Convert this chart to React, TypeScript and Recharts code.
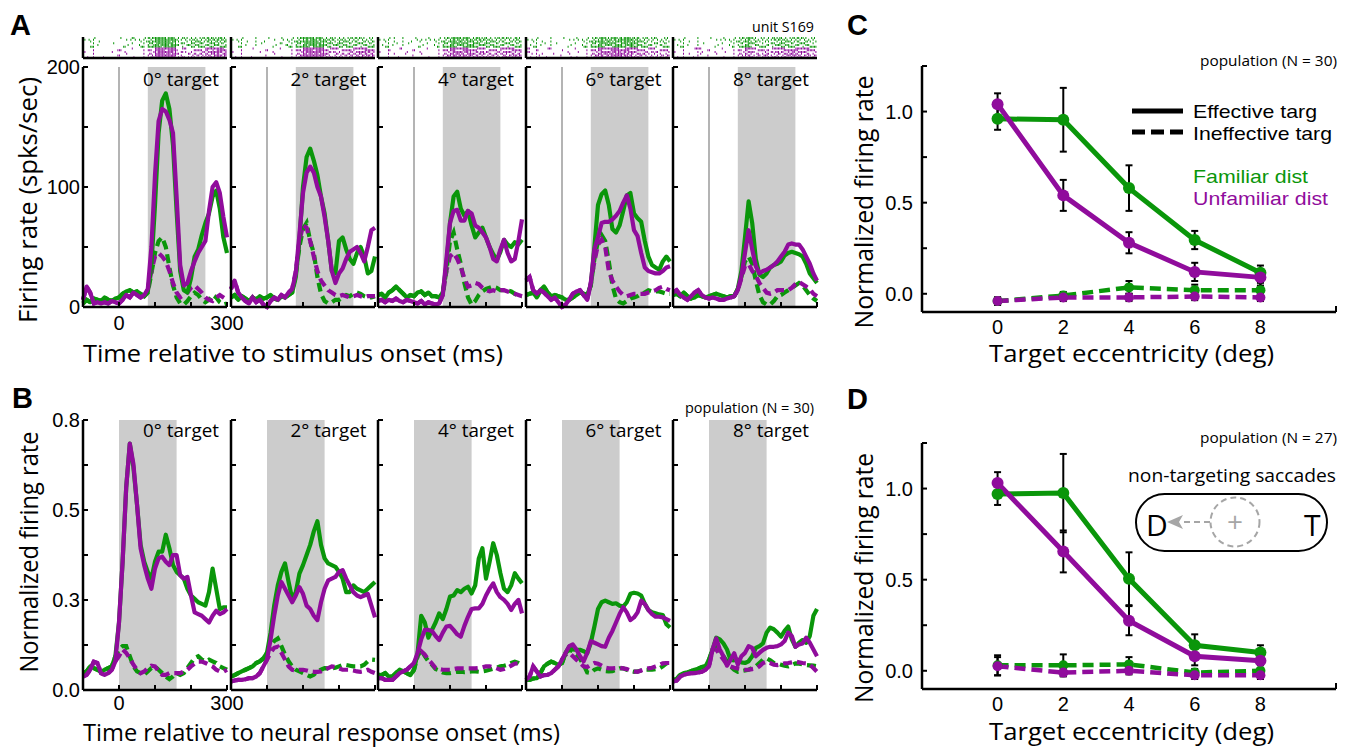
import React from 'react';
import { LineChart, Line, XAxis, YAxis, ReferenceArea, ReferenceLine, ErrorBar, BarChart, Bar } from 'recharts';

// ---------- colours & fonts ----------
const GREEN = '#0a960a';
const PURPLE = '#900c9c';
const SHADE = '#cccccc';
const FONT = "'Open Sans', 'Noto Sans', sans-serif";
const NUMFONT = "'Liberation Sans', Arial, sans-serif";

// ---------- shared categories ----------
const TIME_MS = [-100, -90, -80, -70, -60, -50, -40, -30, -20, -10, 0, 10, 20, 30, 40, 50, 60, 70, 80, 90, 100, 110, 120, 130, 140, 150, 160, 170, 180, 190, 200, 210, 220, 230, 240, 250, 260, 270, 280, 290, 300];
const TARGET_LABELS = ['0° target', '2° target', '4° target', '6° target', '8° target'];
const RASTER_BINS = [-90, -70, -50, -30, -10, 10, 30, 50, 70, 90, 110, 130, 150, 170, 190, 210, 230, 250, 270, 290];
const ECC_DEG = [0, 2, 4, 6, 8];

const A_Y_TICKS = [0, 50, 100, 150, 200];
const A_Y_TICK_LABELS = ['0', '', '100', '', '200'];
const B_Y_TICKS = [0, 0.1333, 0.2667, 0.4, 0.5333, 0.6667, 0.8];
const B_Y_TICK_LABELS = ['0.0', '', '0.3', '', '0.5', '', '0.8'];
const T_X_TICKS = [0, 100, 200, 300];
const CD_Y_TICKS = [0, 0.25, 0.5, 0.75, 1, 1.25];
const CD_Y_TICK_LABELS = ['0.0', '', '0.5', '', '1.0', ''];

// ---------- Panel A: single unit S169 firing rate (spks/sec) ----------
const A_T0_famEff = [3, 6, 4, 7, 6, 5, 8, 6, 5, 7, 8, 11, 13, 14, 12, 13, 11, 9, 13, 35, 85, 145, 172, 178, 165, 135, 80, 30, 14, 12, 24, 42, 48, 60, 70, 78, 92, 97, 82, 58, 45];
const A_T0_unfEff = [6, 17, 12, 3, 4, 3, 4, 3, 5, 4, 3, 6, 10, 8, 12, 10, 8, 10, 15, 50, 110, 155, 165, 163, 156, 145, 92, 35, 18, 20, 30, 38, 45, 50, 55, 80, 100, 104, 95, 75, 58];
const A_T0_famIne = [3, 6, 4, 7, 6, 5, 8, 6, 5, 7, 8, 11, 13, 14, 12, 13, 11, 9, 12, 28, 45, 55, 58, 50, 33, 18, 8, 3, 2, 5, 9, 12, 10, 6, 4, 6, 10, 8, 4, 2, 3];
const A_T0_unfIne = [6, 17, 12, 3, 4, 3, 4, 3, 5, 4, 3, 6, 10, 8, 12, 10, 8, 10, 14, 30, 42, 45, 42, 38, 30, 20, 12, 8, 10, 12, 16, 18, 15, 12, 8, 6, 5, 8, 10, 8, 6];

const A_T2_famEff = [8, 10, 6, 9, 7, 5, 8, 6, 9, 7, 8, 10, 7, 6, 9, 8, 10, 12, 25, 55, 100, 125, 132, 122, 110, 92, 78, 55, 30, 28, 55, 58, 48, 40, 36, 45, 50, 42, 28, 30, 42];
const A_T2_unfEff = [15, 22, 12, 8, 5, 3, 8, 4, 6, 2, 0, 5, 8, 6, 10, 8, 12, 15, 28, 60, 95, 112, 117, 112, 100, 92, 75, 55, 30, 20, 28, 32, 40, 46, 48, 50, 45, 38, 50, 64, 66];
const A_T2_famIne = [8, 10, 6, 9, 7, 5, 8, 6, 9, 7, 8, 10, 7, 6, 9, 8, 10, 12, 28, 50, 65, 70, 55, 45, 25, 11, 5, 3, 4, 6, 6, 8, 10, 9, 11, 12, 11, 9, 8, 8, 9];
const A_T2_unfIne = [15, 22, 12, 8, 5, 3, 8, 4, 6, 2, 0, 5, 8, 6, 10, 8, 12, 15, 30, 55, 68, 66, 55, 42, 30, 22, 18, 14, 12, 10, 9, 10, 9, 8, 9, 10, 9, 8, 9, 9, 9];

const A_T4_famEff = [10, 11, 8, 12, 14, 17, 14, 11, 8, 10, 9, 12, 13, 10, 12, 9, 9, 8, 12, 35, 70, 92, 96, 82, 76, 80, 68, 58, 62, 66, 58, 50, 44, 39, 46, 56, 52, 50, 54, 52, 56];
const A_T4_unfEff = [5, 6, 4, 6, 5, 7, 5, 4, 6, 5, 4, 3, 5, 2, 4, 3, 2, 3, 10, 40, 70, 80, 81, 72, 72, 80, 78, 68, 66, 62, 58, 50, 40, 38, 48, 56, 45, 38, 40, 55, 73];
const A_T4_famIne = [10, 11, 8, 12, 14, 17, 14, 11, 8, 10, 9, 12, 13, 10, 12, 9, 9, 8, 12, 30, 55, 62, 48, 36, 20, 8, 2, 5, 10, 13, 15, 16, 17, 16, 14, 14, 14, 13, 11, 9, 9];
const A_T4_unfIne = [5, 6, 4, 6, 5, 7, 5, 4, 6, 5, 4, 3, 5, 2, 4, 3, 2, 3, 10, 30, 42, 45, 40, 33, 24, 17, 18, 20, 19, 16, 14, 13, 14, 13, 14, 14, 13, 12, 11, 10, 9];

const A_T6_famEff = [10, 11, 12, 8, 14, 17, 12, 9, 10, 9, 8, 6, 6, 8, 10, 12, 11, 10, 18, 50, 85, 94, 97, 85, 65, 62, 68, 80, 93, 95, 78, 74, 71, 55, 42, 35, 33, 31, 38, 42, 38];
const A_T6_unfEff = [22, 25, 14, 11, 14, 12, 9, 6, 8, 4, 0, 2, 6, 11, 13, 14, 10, 6, 20, 48, 58, 70, 71, 71, 73, 76, 80, 87, 93, 82, 64, 59, 45, 33, 30, 29, 28, 28, 30, 33, 34];
const A_T6_famIne = [10, 11, 12, 8, 14, 17, 12, 9, 10, 9, 8, 6, 6, 8, 10, 12, 11, 10, 18, 40, 55, 60, 55, 38, 18, 7, 4, 3, 5, 7, 8, 9, 11, 12, 14, 13, 13, 13, 12, 11, 11];
const A_T6_unfIne = [22, 25, 14, 11, 14, 12, 9, 6, 8, 4, 0, 2, 6, 11, 13, 14, 10, 6, 20, 38, 52, 56, 50, 30, 22, 17, 13, 10, 9, 10, 11, 11, 11, 11, 12, 13, 14, 16, 17, 15, 14];

const A_T8_famEff = [10, 11, 9, 12, 9, 7, 8, 10, 9, 8, 9, 10, 11, 10, 9, 8, 9, 9, 15, 30, 58, 88, 70, 40, 27, 25, 28, 33, 35, 36, 38, 43, 45, 46, 45, 44, 42, 36, 28, 24, 20];
const A_T8_unfEff = [12, 14, 10, 8, 6, 9, 12, 14, 10, 8, 7, 8, 7, 6, 6, 7, 8, 9, 14, 26, 45, 64, 48, 34, 28, 30, 31, 33, 35, 38, 42, 46, 52, 53, 52, 52, 48, 42, 36, 28, 22];
const A_T8_famIne = [10, 11, 9, 12, 9, 7, 8, 10, 9, 8, 9, 10, 11, 10, 9, 8, 9, 9, 15, 25, 38, 42, 36, 22, 10, 4, 2, 2, 5, 9, 10, 12, 14, 16, 18, 20, 18, 14, 10, 7, 5];
const A_T8_unfIne = [12, 14, 10, 8, 6, 9, 12, 14, 10, 8, 7, 8, 7, 6, 6, 7, 8, 9, 14, 24, 34, 36, 30, 26, 20, 16, 12, 11, 12, 14, 14, 14, 14, 16, 19, 21, 19, 17, 15, 11, 9];

// ---------- Panel A raster: spike density per 20 ms bin (0..1) ----------
const RASTER_T0_fam = [0.08, 0.12, 0.1, 0.06, 0.1, 0.12, 0.15, 0.1, 0.15, 0.6, 0.95, 0.95, 0.85, 0.4, 0.35, 0.5, 0.55, 0.6, 0.6, 0.55];
const RASTER_T0_unf = [0.15, 0.1, 0.08, 0.05, 0.08, 0.1, 0.1, 0.08, 0.1, 0.4, 0.9, 0.9, 0.85, 0.3, 0.25, 0.35, 0.4, 0.6, 0.75, 0.7];
const RASTER_T2_fam = [0.1, 0.12, 0.08, 0.1, 0.12, 0.08, 0.1, 0.12, 0.15, 0.55, 0.9, 0.9, 0.8, 0.5, 0.4, 0.5, 0.45, 0.5, 0.4, 0.45];
const RASTER_T2_unf = [0.2, 0.1, 0.08, 0.06, 0.08, 0.06, 0.08, 0.08, 0.12, 0.45, 0.85, 0.85, 0.75, 0.5, 0.3, 0.35, 0.45, 0.5, 0.6, 0.65];
const RASTER_T4_fam = [0.15, 0.15, 0.2, 0.15, 0.12, 0.15, 0.12, 0.1, 0.12, 0.5, 0.85, 0.8, 0.75, 0.65, 0.55, 0.5, 0.45, 0.5, 0.5, 0.5];
const RASTER_T4_unf = [0.1, 0.12, 0.1, 0.08, 0.08, 0.06, 0.06, 0.06, 0.08, 0.45, 0.75, 0.7, 0.7, 0.6, 0.55, 0.5, 0.4, 0.45, 0.45, 0.5];
const RASTER_T6_fam = [0.15, 0.15, 0.12, 0.12, 0.1, 0.1, 0.12, 0.1, 0.15, 0.55, 0.85, 0.75, 0.7, 0.8, 0.8, 0.6, 0.45, 0.35, 0.35, 0.4];
const RASTER_T6_unf = [0.25, 0.15, 0.12, 0.1, 0.05, 0.05, 0.12, 0.12, 0.12, 0.5, 0.7, 0.7, 0.75, 0.8, 0.7, 0.55, 0.35, 0.3, 0.3, 0.35];
const RASTER_T8_fam = [0.12, 0.12, 0.1, 0.12, 0.1, 0.1, 0.12, 0.1, 0.12, 0.4, 0.75, 0.45, 0.35, 0.4, 0.45, 0.5, 0.5, 0.5, 0.4, 0.35];
const RASTER_T8_unf = [0.15, 0.1, 0.12, 0.15, 0.1, 0.08, 0.08, 0.1, 0.12, 0.35, 0.6, 0.4, 0.35, 0.4, 0.45, 0.55, 0.6, 0.55, 0.45, 0.35];

// ---------- Panel B: population normalized firing rate ----------
const B_T0_famEff = [0.05, 0.055, 0.07, 0.065, 0.06, 0.054, 0.06, 0.065, 0.07, 0.10, 0.20, 0.38, 0.60, 0.73, 0.66, 0.55, 0.43, 0.38, 0.35, 0.33, 0.38, 0.41, 0.41, 0.46, 0.42, 0.37, 0.35, 0.34, 0.33, 0.30, 0.28, 0.27, 0.26, 0.255, 0.25, 0.29, 0.36, 0.30, 0.24, 0.245, 0.245];
const B_T0_unfEff = [0.04, 0.045, 0.06, 0.084, 0.08, 0.05, 0.045, 0.05, 0.06, 0.085, 0.20, 0.38, 0.60, 0.73, 0.67, 0.55, 0.42, 0.37, 0.33, 0.30, 0.36, 0.39, 0.395, 0.38, 0.37, 0.40, 0.40, 0.34, 0.33, 0.335, 0.28, 0.23, 0.225, 0.22, 0.21, 0.20, 0.22, 0.235, 0.225, 0.23, 0.24];
const B_T0_famIne = [0.05, 0.055, 0.07, 0.065, 0.06, 0.054, 0.06, 0.065, 0.07, 0.10, 0.12, 0.13, 0.13, 0.10, 0.07, 0.055, 0.05, 0.045, 0.055, 0.065, 0.07, 0.06, 0.05, 0.04, 0.032, 0.04, 0.05, 0.045, 0.05, 0.065, 0.08, 0.095, 0.10, 0.09, 0.085, 0.09, 0.085, 0.08, 0.07, 0.065, 0.06];
const B_T0_unfIne = [0.04, 0.045, 0.06, 0.084, 0.08, 0.05, 0.045, 0.05, 0.06, 0.085, 0.10, 0.12, 0.11, 0.094, 0.075, 0.06, 0.05, 0.055, 0.065, 0.072, 0.07, 0.055, 0.045, 0.045, 0.05, 0.05, 0.05, 0.05, 0.055, 0.06, 0.07, 0.078, 0.084, 0.084, 0.08, 0.075, 0.07, 0.06, 0.055, 0.054, 0.06];

const B_T2_famEff = [0.04, 0.044, 0.05, 0.055, 0.06, 0.065, 0.07, 0.08, 0.085, 0.094, 0.11, 0.17, 0.25, 0.31, 0.35, 0.375, 0.32, 0.27, 0.29, 0.345, 0.37, 0.40, 0.43, 0.47, 0.50, 0.43, 0.39, 0.375, 0.37, 0.365, 0.35, 0.33, 0.29, 0.29, 0.31, 0.30, 0.295, 0.29, 0.30, 0.31, 0.32];
const B_T2_unfEff = [0.025, 0.028, 0.03, 0.03, 0.032, 0.035, 0.035, 0.04, 0.05, 0.07, 0.09, 0.15, 0.22, 0.28, 0.32, 0.30, 0.28, 0.26, 0.28, 0.305, 0.285, 0.25, 0.24, 0.22, 0.207, 0.26, 0.30, 0.325, 0.33, 0.335, 0.35, 0.355, 0.33, 0.31, 0.29, 0.28, 0.275, 0.28, 0.285, 0.25, 0.215];
const B_T2_famIne = [0.04, 0.044, 0.05, 0.055, 0.06, 0.065, 0.07, 0.08, 0.085, 0.094, 0.11, 0.13, 0.145, 0.153, 0.13, 0.105, 0.085, 0.07, 0.06, 0.055, 0.05, 0.045, 0.04, 0.045, 0.055, 0.06, 0.065, 0.064, 0.064, 0.066, 0.07, 0.074, 0.074, 0.072, 0.07, 0.07, 0.07, 0.075, 0.085, 0.09, 0.089];
const B_T2_unfIne = [0.025, 0.028, 0.03, 0.03, 0.032, 0.035, 0.035, 0.04, 0.05, 0.07, 0.09, 0.11, 0.125, 0.128, 0.11, 0.09, 0.07, 0.06, 0.058, 0.06, 0.06, 0.058, 0.055, 0.054, 0.054, 0.055, 0.06, 0.065, 0.07, 0.068, 0.064, 0.06, 0.06, 0.06, 0.058, 0.055, 0.054, 0.056, 0.06, 0.054, 0.05];

const B_T4_famEff = [0.045, 0.044, 0.05, 0.04, 0.04, 0.05, 0.06, 0.055, 0.05, 0.044, 0.06, 0.11, 0.22, 0.20, 0.155, 0.178, 0.20, 0.227, 0.21, 0.24, 0.277, 0.28, 0.296, 0.29, 0.30, 0.306, 0.286, 0.31, 0.39, 0.42, 0.33, 0.38, 0.435, 0.40, 0.346, 0.30, 0.29, 0.31, 0.346, 0.33, 0.316];
const B_T4_unfEff = [0.035, 0.035, 0.03, 0.03, 0.03, 0.04, 0.05, 0.055, 0.06, 0.07, 0.08, 0.11, 0.15, 0.178, 0.178, 0.175, 0.16, 0.148, 0.17, 0.188, 0.19, 0.178, 0.165, 0.158, 0.19, 0.217, 0.24, 0.242, 0.242, 0.255, 0.28, 0.30, 0.316, 0.29, 0.275, 0.267, 0.255, 0.237, 0.255, 0.267, 0.227];
const B_T4_famIne = [0.045, 0.044, 0.05, 0.04, 0.04, 0.05, 0.06, 0.055, 0.05, 0.044, 0.06, 0.10, 0.12, 0.10, 0.085, 0.075, 0.062, 0.058, 0.052, 0.05, 0.05, 0.052, 0.054, 0.054, 0.053, 0.054, 0.055, 0.055, 0.054, 0.055, 0.057, 0.06, 0.063, 0.066, 0.07, 0.072, 0.075, 0.08, 0.084, 0.08, 0.074];
const B_T4_unfIne = [0.035, 0.035, 0.03, 0.03, 0.03, 0.04, 0.05, 0.055, 0.06, 0.07, 0.08, 0.10, 0.115, 0.105, 0.09, 0.078, 0.065, 0.062, 0.06, 0.06, 0.06, 0.062, 0.064, 0.064, 0.064, 0.064, 0.064, 0.064, 0.065, 0.067, 0.07, 0.07, 0.068, 0.064, 0.06, 0.062, 0.066, 0.072, 0.078, 0.079, 0.075];

const B_T6_famEff = [0.03, 0.03, 0.034, 0.035, 0.05, 0.07, 0.078, 0.084, 0.08, 0.074, 0.08, 0.11, 0.128, 0.12, 0.119, 0.119, 0.115, 0.109, 0.14, 0.188, 0.24, 0.26, 0.265, 0.26, 0.255, 0.257, 0.25, 0.247, 0.26, 0.285, 0.288, 0.286, 0.28, 0.255, 0.237, 0.23, 0.227, 0.224, 0.222, 0.195, 0.185];
const B_T6_unfEff = [0.03, 0.04, 0.07, 0.055, 0.04, 0.044, 0.045, 0.05, 0.06, 0.07, 0.09, 0.11, 0.13, 0.135, 0.12, 0.10, 0.085, 0.11, 0.145, 0.14, 0.135, 0.13, 0.128, 0.155, 0.175, 0.20, 0.225, 0.245, 0.23, 0.207, 0.215, 0.23, 0.265, 0.255, 0.237, 0.225, 0.217, 0.217, 0.215, 0.21, 0.205];
const B_T6_famIne = [0.03, 0.03, 0.034, 0.035, 0.05, 0.07, 0.078, 0.084, 0.08, 0.074, 0.08, 0.11, 0.12, 0.115, 0.105, 0.092, 0.075, 0.052, 0.05, 0.06, 0.064, 0.06, 0.056, 0.055, 0.056, 0.06, 0.064, 0.064, 0.06, 0.056, 0.054, 0.055, 0.058, 0.06, 0.06, 0.06, 0.062, 0.064, 0.07, 0.079, 0.08];
const B_T6_unfIne = [0.03, 0.04, 0.07, 0.055, 0.04, 0.044, 0.045, 0.05, 0.06, 0.07, 0.09, 0.105, 0.11, 0.1, 0.09, 0.08, 0.07, 0.068, 0.075, 0.08, 0.078, 0.072, 0.066, 0.064, 0.064, 0.065, 0.066, 0.064, 0.062, 0.058, 0.055, 0.054, 0.058, 0.062, 0.064, 0.066, 0.07, 0.074, 0.079, 0.08, 0.08];

const B_T8_famEff = [0.03, 0.032, 0.045, 0.05, 0.052, 0.056, 0.06, 0.063, 0.068, 0.07, 0.09, 0.12, 0.155, 0.15, 0.138, 0.12, 0.089, 0.088, 0.09, 0.082, 0.08, 0.085, 0.10, 0.125, 0.13, 0.138, 0.17, 0.185, 0.18, 0.17, 0.158, 0.175, 0.188, 0.15, 0.128, 0.14, 0.148, 0.14, 0.16, 0.22, 0.24];
const B_T8_unfEff = [0.025, 0.028, 0.04, 0.045, 0.048, 0.05, 0.05, 0.052, 0.054, 0.06, 0.07, 0.12, 0.153, 0.12, 0.1, 0.072, 0.09, 0.109, 0.075, 0.1, 0.11, 0.13, 0.125, 0.1, 0.11, 0.119, 0.125, 0.128, 0.128, 0.13, 0.135, 0.145, 0.17, 0.16, 0.128, 0.135, 0.138, 0.155, 0.14, 0.12, 0.1];
const B_T8_famIne = [0.03, 0.032, 0.045, 0.05, 0.052, 0.056, 0.06, 0.063, 0.068, 0.07, 0.09, 0.12, 0.128, 0.115, 0.1, 0.085, 0.07, 0.06, 0.054, 0.056, 0.058, 0.06, 0.065, 0.07, 0.08, 0.09, 0.094, 0.088, 0.08, 0.079, 0.075, 0.072, 0.07, 0.074, 0.079, 0.078, 0.076, 0.074, 0.073, 0.072, 0.07];
const B_T8_unfIne = [0.025, 0.028, 0.04, 0.045, 0.048, 0.05, 0.05, 0.052, 0.054, 0.06, 0.07, 0.12, 0.12, 0.105, 0.09, 0.075, 0.07, 0.066, 0.064, 0.062, 0.06, 0.06, 0.062, 0.064, 0.07, 0.08, 0.084, 0.08, 0.075, 0.074, 0.076, 0.079, 0.08, 0.082, 0.084, 0.082, 0.08, 0.079, 0.075, 0.065, 0.054];

// ---------- Panel C (N = 30) ----------
const C_famEff = [0.96, 0.955, 0.58, 0.295, 0.115];
const C_famEffErr = [0.06, 0.175, 0.125, 0.05, 0.04];
const C_unfEff = [1.04, 0.54, 0.28, 0.12, 0.09];
const C_unfEffErr = [0.06, 0.085, 0.058, 0.05, 0.045];
const C_famIne = [-0.04, -0.01, 0.035, 0.02, 0.02];
const C_famIneErr = [0.02, 0.02, 0.035, 0.03, 0.04];
const C_unfIne = [-0.04, -0.02, -0.02, -0.015, -0.02];
const C_unfIneErr = [0.02, 0.02, 0.02, 0.02, 0.02];

// ---------- Panel D (N = 27) ----------
const D_famEff = [0.97, 0.975, 0.505, 0.14, 0.10];
const D_famEffErr = [0.06, 0.215, 0.145, 0.06, 0.04];
const D_unfEff = [1.03, 0.655, 0.275, 0.08, 0.055];
const D_unfEffErr = [0.06, 0.115, 0.08, 0.05, 0.04];
const D_famIne = [0.03, 0.03, 0.035, -0.01, 0.0];
const D_famIneErr = [0.055, 0.06, 0.04, 0.02, 0.03];
const D_unfIne = [0.025, -0.01, 0.0, -0.025, -0.025];
const D_unfIneErr = [0.05, 0.02, 0.02, 0.02, 0.02];

// ---------- table builders ----------
function timeRows(gs: number[], ps: number[], gd: number[], pd: number[]) {
  return TIME_MS.map((t, i) => ({ t, gs: gs[i], ps: ps[i], gd: gd[i], pd: pd[i] }));
}
function rasterRows(g: number[], p: number[]) {
  return RASTER_BINS.map((b, i) => ({ b, g: g[i], p: p[i], full: 1 }));
}
function eccRows(ge: number[], gee: number[], pe: number[], pee: number[], gi: number[], gie: number[], pi: number[], pie: number[]) {
  return ECC_DEG.map((e, i) => ({ ecc: e, gEff: ge[i], gEffErr: gee[i], pEff: pe[i], pEffErr: pee[i], gIne: gi[i], gIneErr: gie[i], pIne: pi[i], pIneErr: pie[i] }));
}

const A_ROWS = [
  timeRows(A_T0_famEff, A_T0_unfEff, A_T0_famIne, A_T0_unfIne),
  timeRows(A_T2_famEff, A_T2_unfEff, A_T2_famIne, A_T2_unfIne),
  timeRows(A_T4_famEff, A_T4_unfEff, A_T4_famIne, A_T4_unfIne),
  timeRows(A_T6_famEff, A_T6_unfEff, A_T6_famIne, A_T6_unfIne),
  timeRows(A_T8_famEff, A_T8_unfEff, A_T8_famIne, A_T8_unfIne),
];
const RASTER_ROWS = [
  rasterRows(RASTER_T0_fam, RASTER_T0_unf),
  rasterRows(RASTER_T2_fam, RASTER_T2_unf),
  rasterRows(RASTER_T4_fam, RASTER_T4_unf),
  rasterRows(RASTER_T6_fam, RASTER_T6_unf),
  rasterRows(RASTER_T8_fam, RASTER_T8_unf),
];
const B_ROWS = [
  timeRows(B_T0_famEff, B_T0_unfEff, B_T0_famIne, B_T0_unfIne),
  timeRows(B_T2_famEff, B_T2_unfEff, B_T2_famIne, B_T2_unfIne),
  timeRows(B_T4_famEff, B_T4_unfEff, B_T4_famIne, B_T4_unfIne),
  timeRows(B_T6_famEff, B_T6_unfEff, B_T6_famIne, B_T6_unfIne),
  timeRows(B_T8_famEff, B_T8_unfEff, B_T8_famIne, B_T8_unfIne),
];
const C_ROWS = eccRows(C_famEff, C_famEffErr, C_unfEff, C_unfEffErr, C_famIne, C_famIneErr, C_unfIne, C_unfIneErr);
const D_ROWS = eccRows(D_famEff, D_famEffErr, D_unfEff, D_unfEffErr, D_famIne, D_famIneErr, D_unfIne, D_unfIneErr);

// ---------- layout ----------
const PANEL_LEFT0 = 83;
const PANEL_STEP = 147.5;
const PANEL_W = 144;
const AXIS = { stroke: '#000', strokeWidth: 2.5 };
const TICKLINE = { stroke: '#000', strokeWidth: 2 };
const TICKFONT = { fontSize: 20, fontFamily: NUMFONT, fill: '#000' };

function RasterShape(props: any) {
  const { x, y, width, height, payload, index } = props;
  const rowsPer = 6;
  const rowH = height / (rowsPer * 2);
  const cols = Math.max(1, Math.round(width / 1.3));
  const colW = width / cols;
  const marks: any[] = [];
  for (let r = 0; r < rowsPer * 2; r++) {
    const fam = r < rowsPer;
    const d = fam ? payload.g : payload.p;
    for (let k = 0; k < cols; k++) {
      const h = ((r * 37 + k * 61 + index * 29 + r * k * 7) % 101) / 101;
      if (h < d) {
        marks.push(<rect key={r + '-' + k} x={x + k * colW} y={y + r * rowH} width={1} height={rowH * 1.15} fill={fam ? GREEN : PURPLE} />);
      }
    }
  }
  return <g>{marks}</g>;
}

function RasterStrip({ left, rows }: any) {
  return (
    <div style={{ position: 'absolute', left: left - 2, top: 37 }}>
      <BarChart width={PANEL_W + 2} height={23} data={rows} margin={{ top: 0, right: 0, bottom: 0, left: 0 }} barCategoryGap={0} barGap={0}>
        <XAxis dataKey="b" height={2} tick={false} tickLine={false} axisLine={AXIS} />
        <YAxis width={2} domain={[0, 1]} tick={false} tickLine={false} axisLine={AXIS} />
        <Bar dataKey="full" shape={RasterShape} isAnimationActive={false} />
      </BarChart>
    </div>
  );
}

function TimePanel(p: any) {
  const ML = 50, MT = 10, MR = 30, XH = 34;
  return (
    <div style={{ position: 'absolute', left: p.left - ML, top: p.top - MT }}>
      <LineChart width={ML + PANEL_W + MR} height={MT + p.height + XH} data={p.rows} margin={{ top: MT, right: MR, bottom: 0, left: 0 }}>
        <ReferenceArea x1={p.shade[0]} x2={p.shade[1]} fill={SHADE} fillOpacity={1} stroke="none" />
        {p.zeroLine ? <ReferenceLine x={0} stroke="#b4b4b4" strokeWidth={2} /> : null}
        <XAxis dataKey="t" type="number" domain={[-100, 300]} ticks={T_X_TICKS} interval={0} height={XH}
          tickSize={-5} tickMargin={p.xTickMargin} axisLine={AXIS} tickLine={TICKLINE} tick={TICKFONT}
          tickFormatter={(v: number) => (p.showLabels && (v === 0 || v === 300) ? String(v) : '')} />
        <YAxis width={ML} type="number" domain={p.yDomain} ticks={p.yTicks} interval={0}
          tickSize={-5} tickMargin={8} axisLine={AXIS} tickLine={TICKLINE} tick={TICKFONT}
          tickFormatter={(v: number) => (p.showLabels ? p.yLabels[p.yTicks.indexOf(v)] || '' : '')} />
        <Line type="linear" dataKey="gd" stroke={GREEN} strokeWidth={4.2} strokeDasharray="9 5" dot={false} isAnimationActive={false} />
        <Line type="linear" dataKey="pd" stroke={PURPLE} strokeWidth={4.2} strokeDasharray="9 5" dot={false} isAnimationActive={false} />
        <Line type="linear" dataKey="gs" stroke={GREEN} strokeWidth={4.2} strokeLinejoin="round" dot={false} isAnimationActive={false} />
        <Line type="linear" dataKey="ps" stroke={PURPLE} strokeWidth={4.2} strokeLinejoin="round" dot={false} isAnimationActive={false} />
      </LineChart>
    </div>
  );
}

function EccTick(props: any) {
  const { x, y, payload } = props;
  if (payload.value > 9) {
    return <line x1={x} x2={x} y1={y - 8} y2={y - 14} stroke="#000" strokeWidth={2} />;
  }
  return (
    <text x={x} y={y} dy="0.71em" textAnchor="middle" fontSize={20} fontFamily={NUMFONT} fill="#000">{payload.value}</text>
  );
}

function EccPanel({ top, rows }: any) {
  const left = 922, W = 414, H = 246;
  const ML = 60, MT = 10, MR = 10, XH = 34;
  const errProps = { width: 3.5, stroke: '#000', strokeWidth: 2, direction: 'y' as const };
  return (
    <div style={{ position: 'absolute', left: left - ML, top: top - MT }}>
      <LineChart width={ML + W + MR} height={MT + H + XH} data={rows} margin={{ top: MT, right: MR, bottom: 0, left: 0 }}>
        <XAxis dataKey="ecc" type="number" domain={[-2.3, 10.3]} ticks={[0, 2, 4, 6, 8, 10.3]} interval={0} height={XH}
          tickLine={false} tickSize={0} tickMargin={8} axisLine={AXIS} tick={<EccTick />} />
        <YAxis width={ML} type="number" domain={[-0.1, 1.25]} ticks={CD_Y_TICKS} interval={0}
          tickSize={-5} tickMargin={14} axisLine={AXIS} tickLine={TICKLINE} tick={TICKFONT}
          tickFormatter={(v: number) => CD_Y_TICK_LABELS[CD_Y_TICKS.indexOf(v)] || ''} />
        <Line dataKey="gIne" stroke={GREEN} strokeWidth={4.5} strokeDasharray="11 6" dot={{ r: 5, fill: GREEN, stroke: GREEN, strokeWidth: 0 }} isAnimationActive={false} />
        <Line dataKey="pIne" stroke={PURPLE} strokeWidth={4.5} strokeDasharray="11 6" dot={{ r: 5, fill: PURPLE, stroke: PURPLE, strokeWidth: 0 }} isAnimationActive={false} />
        <Line dataKey="gEff" stroke={GREEN} strokeWidth={5} dot={{ r: 6, fill: GREEN, stroke: GREEN, strokeWidth: 0 }} isAnimationActive={false} />
        <Line dataKey="pEff" stroke={PURPLE} strokeWidth={5} dot={{ r: 6, fill: PURPLE, stroke: PURPLE, strokeWidth: 0 }} isAnimationActive={false} />
        <Line dataKey="gIne" stroke="none" dot={false} isAnimationActive={false}><ErrorBar dataKey="gIneErr" {...errProps} /></Line>
        <Line dataKey="pIne" stroke="none" dot={false} isAnimationActive={false}><ErrorBar dataKey="pIneErr" {...errProps} /></Line>
        <Line dataKey="gEff" stroke="none" dot={false} isAnimationActive={false}><ErrorBar dataKey="gEffErr" {...errProps} /></Line>
        <Line dataKey="pEff" stroke="none" dot={false} isAnimationActive={false}><ErrorBar dataKey="pEffErr" {...errProps} /></Line>
      </LineChart>
    </div>
  );
}

function Txt({ x, y, len, size, anchor = 'start', weight = 400, fill = '#000', family = FONT, rotate = false, children }: any) {
  return (
    <text x={x} y={y} fontSize={size} fontWeight={weight} fill={fill} fontFamily={family} textAnchor={anchor}
      textLength={len} lengthAdjust={len ? 'spacingAndGlyphs' : undefined}
      transform={rotate ? `rotate(-90 ${x} ${y})` : undefined}>{children}</text>
  );
}

export default function App() {
  const lefts = [0, 1, 2, 3, 4].map((i) => PANEL_LEFT0 + i * PANEL_STEP);
  return (
    <div style={{ position: 'absolute', left: 0, top: 0, width: 1354, height: 750, background: '#fff', overflow: 'hidden' }}>
      {lefts.map((l, i) => (
        <RasterStrip key={'r' + i} left={l} rows={RASTER_ROWS[i]} />
      ))}
      {lefts.map((l, i) => (
        <TimePanel key={'a' + i} left={l} top={67} height={240} rows={A_ROWS[i]} yDomain={[0, 200]} yTicks={A_Y_TICKS}
          yLabels={A_Y_TICK_LABELS} showLabels={i === 0} shade={[80, 240]} zeroLine xTickMargin={14} />
      ))}
      {lefts.map((l, i) => (
        <TimePanel key={'b' + i} left={l} top={420} height={270} rows={B_ROWS[i]} yDomain={[0, 0.8]} yTicks={B_Y_TICKS}
          yLabels={B_Y_TICK_LABELS} showLabels={i === 0} shade={[0, 160]} zeroLine={false} xTickMargin={11} />
      ))}
      <EccPanel top={65.5} rows={C_ROWS} />
      <EccPanel top={442.5} rows={D_ROWS} />

      <svg width={1354} height={750} style={{ position: 'absolute', left: 0, top: 0, pointerEvents: 'none' }}>
        {/* panel letters */}
        <Txt x={10} y={35} size={29} weight={700} family={NUMFONT}>A</Txt>
        <Txt x={12} y={408} size={29} weight={700} family={NUMFONT}>B</Txt>
        <Txt x={847} y={35} size={29} weight={700} family={NUMFONT}>C</Txt>
        <Txt x={847} y={409} size={29} weight={700} family={NUMFONT}>D</Txt>

        <Txt x={814} y={32} size={14} anchor="end" len={62}>unit S169</Txt>
        <Txt x={814} y={413} size={14} anchor="end" len={129}>population (N = 30)</Txt>

        {lefts.map((l, i) => (
          <Txt key={'ta' + i} x={l + PANEL_W - 8} y={86} size={18} anchor="end" len={76}>{TARGET_LABELS[i]}</Txt>
        ))}
        {lefts.map((l, i) => (
          <Txt key={'tb' + i} x={l + PANEL_W - 8} y={437} size={18} anchor="end" len={76}>{TARGET_LABELS[i]}</Txt>
        ))}

        <Txt x={83} y={362} size={24} len={420}>Time relative to stimulus onset (ms)</Txt>
        <Txt x={37} y={200} size={25} anchor="middle" len={246} rotate>Firing rate (spks/sec)</Txt>
        <Txt x={83} y={741} size={24} len={477}>Time relative to neural response onset (ms)</Txt>
        <Txt x={38} y={552} size={25} anchor="middle" len={241} rotate>Normalized firing rate</Txt>

        <Txt x={873} y={202} size={25} anchor="middle" len={253} rotate>Normalized firing rate</Txt>
        <Txt x={989} y={362} size={24} len={285}>Target eccentricity (deg)</Txt>
        <Txt x={873} y={578} size={25} anchor="middle" len={250} rotate>Normalized firing rate</Txt>
        <Txt x={989} y={740} size={24} len={285}>Target eccentricity (deg)</Txt>

        <Txt x={1337} y={66} size={14} anchor="end" len={137}>population (N = 30)</Txt>
        <Txt x={1337} y={443} size={14} anchor="end" len={137}>population (N = 27)</Txt>

        {/* legend C */}
        <line x1={1132} x2={1183} y1={111} y2={111} stroke="#000" strokeWidth={5} />
        <Txt x={1193} y={118} size={19} len={124} family={NUMFONT}>Effective targ</Txt>
        <line x1={1132} x2={1183} y1={132} y2={132} stroke="#000" strokeWidth={5} strokeDasharray="13 6" />
        <Txt x={1193} y={140} size={19} len={139} family={NUMFONT}>Ineffective targ</Txt>
        <Txt x={1193} y={183} size={19} len={115} fill={GREEN} family={NUMFONT}>Familiar dist</Txt>
        <Txt x={1193} y={205} size={19} len={135} fill={PURPLE} family={NUMFONT}>Unfamiliar dist</Txt>

        {/* schematic D */}
        <Txt x={1128} y={482} size={19} len={208}>non-targeting saccades</Txt>
        <rect x={1136} y={494} width={191} height={57} rx={28.5} ry={28.5} fill="none" stroke="#000" strokeWidth={2} />
        <Txt x={1146} y={536} size={30}>D</Txt>
        <Txt x={1304} y={536} size={30}>T</Txt>
        <circle cx={1235} cy={522} r={24.5} fill="none" stroke="#a6a6a6" strokeWidth={2} strokeDasharray="6 4" />
        <Txt x={1235} y={532} size={28} anchor="middle" fill="#a6a6a6">+</Txt>
        <line x1={1210} x2={1180} y1={522} y2={522} stroke="#a6a6a6" strokeWidth={2} strokeDasharray="6 4" />
        <polygon points="1167,522 1183,515 1179,522 1183,529" fill="#a6a6a6" />
      </svg>
    </div>
  );
}
